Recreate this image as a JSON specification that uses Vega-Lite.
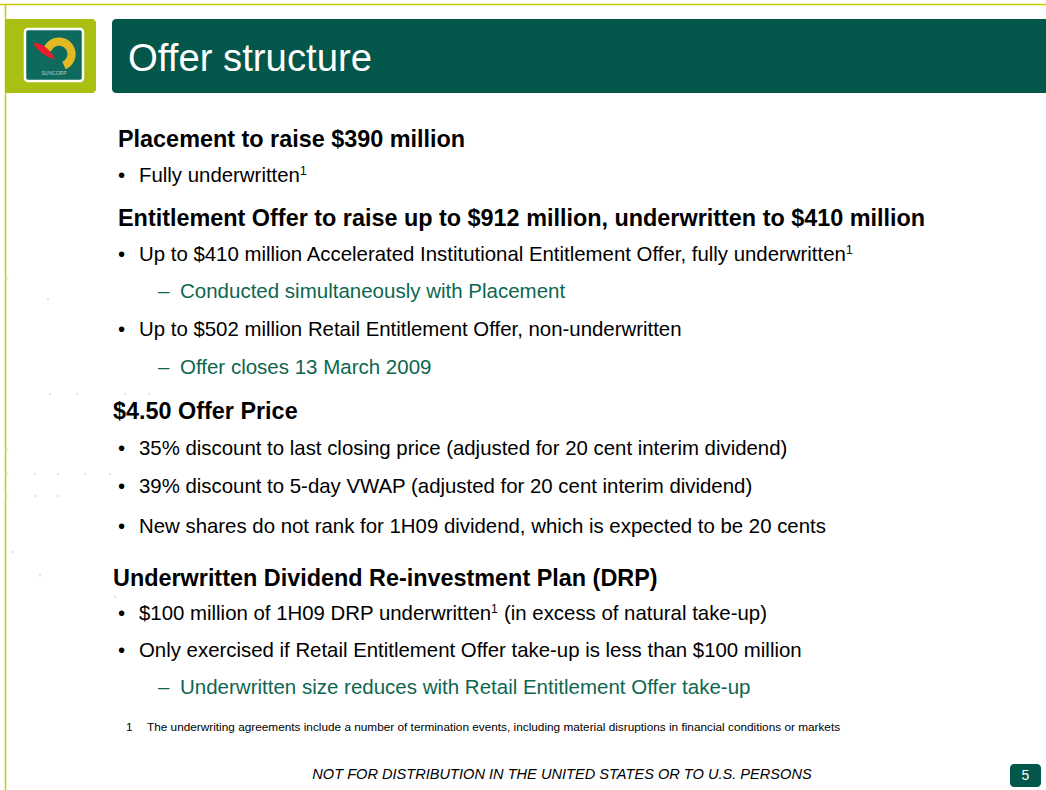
{
  "$schema": "https://vega.github.io/schema/vega-lite/v6.json",
  "width": 1046,
  "height": 790,
  "padding": 0,
  "autosize": {"type": "none"},
  "background": "white",
  "config": {"view": {"stroke": null}},
  "datasets": {
    "rects": [
      {"name": "olive", "x": 5, "x2": 96, "y": 19, "y2": 93},
      {"name": "header", "x": 112, "x2": 1060, "y": 19, "y2": 93},
      {"name": "logo", "x": 25, "x2": 83, "y": 29, "y2": 81},
      {"name": "page", "x": 1010, "x2": 1041, "y": 764, "y2": 787}
    ],
    "rules": [
      {"x": 0, "x2": 1046, "y": 4.5, "y2": 4.5},
      {"x": 5.5, "x2": 5.5, "y": 4, "y2": 790}
    ],
    "dots": [
      {"x": 7, "y": 278}, {"x": 48, "y": 299}, {"x": 50, "y": 394}, {"x": 77, "y": 394},
      {"x": 125, "y": 394}, {"x": 149, "y": 394}, {"x": 7, "y": 450}, {"x": 7, "y": 474},
      {"x": 35, "y": 474}, {"x": 58, "y": 474}, {"x": 85, "y": 474}, {"x": 110, "y": 474},
      {"x": 7, "y": 496}, {"x": 35, "y": 496}, {"x": 58, "y": 496}, {"x": 13, "y": 552},
      {"x": 40, "y": 575}, {"x": 115, "y": 597}
    ],
    "logo": [
      {"part": "arc", "x": 59, "y": 54},
      {"part": "leaf", "x": 44, "y": 51}
    ],
    "texts": [
      {"kind": "title", "x": 128, "y": 71, "text": "Offer structure"},
      {"kind": "brand", "x": 54, "y": 75, "text": "SUNCORP"},
      {"kind": "head", "x": 118, "y": 147, "text": "Placement to raise $390 million"},
      {"kind": "body", "x": 118, "y": 182, "text": "•"},
      {"kind": "body", "x": 139, "y": 182, "text": "Fully underwritten"},
      {"kind": "sup", "x": 300, "y": 175, "text": "1"},
      {"kind": "head", "x": 118, "y": 226, "text": "Entitlement Offer to raise up to $912 million, underwritten to $410 million"},
      {"kind": "body", "x": 118, "y": 261, "text": "•"},
      {"kind": "body", "x": 139, "y": 261, "text": "Up to $410 million Accelerated Institutional Entitlement Offer, fully underwritten"},
      {"kind": "sup", "x": 846, "y": 254, "text": "1"},
      {"kind": "sub", "x": 158, "y": 298, "text": "–"},
      {"kind": "sub", "x": 180, "y": 298, "text": "Conducted simultaneously with Placement"},
      {"kind": "body", "x": 118, "y": 336, "text": "•"},
      {"kind": "body", "x": 139, "y": 336, "text": "Up to $502 million Retail Entitlement Offer, non-underwritten"},
      {"kind": "sub", "x": 158, "y": 374, "text": "–"},
      {"kind": "sub", "x": 180, "y": 374, "text": "Offer closes 13 March 2009"},
      {"kind": "head", "x": 113, "y": 419, "text": "$4.50 Offer Price"},
      {"kind": "body", "x": 118, "y": 455, "text": "•"},
      {"kind": "body", "x": 139, "y": 455, "text": "35% discount to last closing price (adjusted for 20 cent interim dividend)"},
      {"kind": "body", "x": 118, "y": 493, "text": "•"},
      {"kind": "body", "x": 139, "y": 493, "text": "39% discount to 5-day VWAP (adjusted for 20 cent interim dividend)"},
      {"kind": "body", "x": 118, "y": 533, "text": "•"},
      {"kind": "body", "x": 139, "y": 533, "text": "New shares do not rank for 1H09 dividend, which is expected to be 20 cents"},
      {"kind": "head", "x": 113, "y": 586, "text": "Underwritten Dividend Re-investment Plan (DRP)"},
      {"kind": "body", "x": 118, "y": 620, "text": "•"},
      {"kind": "body", "x": 139, "y": 620, "text": "$100 million of 1H09 DRP underwritten"},
      {"kind": "sup", "x": 491, "y": 613, "text": "1"},
      {"kind": "body", "x": 504, "y": 620, "text": "(in excess of natural take-up)"},
      {"kind": "body", "x": 118, "y": 657, "text": "•"},
      {"kind": "body", "x": 139, "y": 657, "text": "Only exercised if Retail Entitlement Offer take-up is less than $100 million"},
      {"kind": "sub", "x": 158, "y": 694, "text": "–"},
      {"kind": "sub", "x": 180, "y": 694, "text": "Underwritten size reduces with Retail Entitlement Offer take-up"},
      {"kind": "foot", "x": 126, "y": 731, "text": "1"},
      {"kind": "foot", "x": 147, "y": 731, "text": "The underwriting agreements include a number of termination events, including material disruptions in financial conditions or markets"},
      {"kind": "footer", "x": 562, "y": 779, "text": "NOT FOR DISTRIBUTION IN THE UNITED STATES OR TO U.S. PERSONS"},
      {"kind": "page", "x": 1025.5, "y": 780, "text": "5"}
    ]
  },
  "encoding": {
    "x": {"field": "x", "type": "quantitative", "scale": {"domain": [0, 1046], "nice": false, "zero": false}, "axis": null},
    "y": {"field": "y", "type": "quantitative", "scale": {"domain": [0, 790], "nice": false, "zero": false, "reverse": true}, "axis": null}
  },
  "layer": [
    {
      "data": {"name": "rules"},
      "mark": {"type": "rule", "color": "#C9CC00", "strokeWidth": 1.5},
      "encoding": {"x2": {"field": "x2"}, "y2": {"field": "y2"}}
    },
    {
      "data": {"name": "dots"},
      "mark": {"type": "square", "color": "#E6E6E6", "size": 5, "opacity": 1},
      "encoding": {}
    },
    {
      "data": {"name": "rects"},
      "transform": [{"filter": "datum.name === 'olive'"}],
      "mark": {"type": "rect", "color": "#A9BF12", "cornerRadiusTopRight": 4, "cornerRadiusBottomRight": 4},
      "encoding": {"x2": {"field": "x2"}, "y2": {"field": "y2"}}
    },
    {
      "data": {"name": "rects"},
      "transform": [{"filter": "datum.name === 'header' || datum.name === 'page'"}],
      "mark": {"type": "rect", "color": "#03574A", "cornerRadius": 4},
      "encoding": {"x2": {"field": "x2"}, "y2": {"field": "y2"}}
    },
    {
      "data": {"name": "rects"},
      "transform": [{"filter": "datum.name === 'logo'"}],
      "mark": {"type": "rect", "fill": "#0E6A5D", "stroke": "white", "strokeWidth": 2.5, "cornerRadius": 3},
      "encoding": {"x2": {"field": "x2"}, "y2": {"field": "y2"}}
    },
    {
      "data": {"name": "logo"},
      "transform": [{"filter": "datum.part === 'arc'"}],
      "mark": {"type": "point", "filled": true, "color": "#E2B824", "opacity": 1, "size": 1100,
        "shape": "M -0.95 -0.3 A 1 1 0 1 1 0.4 0.92 L 0.2 0.46 A 0.5 0.5 0 1 0 -0.47 -0.15 Z"},
      "encoding": {}
    },
    {
      "data": {"name": "logo"},
      "transform": [{"filter": "datum.part === 'leaf'"}],
      "mark": {"type": "point", "filled": true, "color": "#E3202C", "opacity": 1, "size": 500,
        "shape": "M -1 -0.7 Q 0.1 -0.8 1 0.7 Q -0.1 0.6 -1 -0.7 Z"},
      "encoding": {}
    },
    {
      "data": {"name": "texts"},
      "transform": [{"filter": "datum.kind === 'title'"}],
      "mark": {"type": "text", "align": "left", "baseline": "alphabetic", "font": "Liberation Sans", "fontSize": 38.3, "color": "white"},
      "encoding": {"text": {"field": "text"}}
    },
    {
      "data": {"name": "texts"},
      "transform": [{"filter": "datum.kind === 'brand'"}],
      "mark": {"type": "text", "align": "center", "baseline": "alphabetic", "font": "Liberation Sans", "fontSize": 5, "color": "#B8D0C8"},
      "encoding": {"text": {"field": "text"}}
    },
    {
      "data": {"name": "texts"},
      "transform": [{"filter": "datum.kind === 'head'"}],
      "mark": {"type": "text", "align": "left", "baseline": "alphabetic", "font": "Liberation Sans", "fontSize": 23.4, "fontWeight": "bold", "color": "#000000"},
      "encoding": {"text": {"field": "text"}}
    },
    {
      "data": {"name": "texts"},
      "transform": [{"filter": "datum.kind === 'body'"}],
      "mark": {"type": "text", "align": "left", "baseline": "alphabetic", "font": "Liberation Sans", "fontSize": 20.4, "color": "#000000"},
      "encoding": {"text": {"field": "text"}}
    },
    {
      "data": {"name": "texts"},
      "transform": [{"filter": "datum.kind === 'sub'"}],
      "mark": {"type": "text", "align": "left", "baseline": "alphabetic", "font": "Liberation Sans", "fontSize": 20.5, "color": "#0D6650"},
      "encoding": {"text": {"field": "text"}}
    },
    {
      "data": {"name": "texts"},
      "transform": [{"filter": "datum.kind === 'sup'"}],
      "mark": {"type": "text", "align": "left", "baseline": "alphabetic", "font": "Liberation Sans", "fontSize": 12, "color": "#000000"},
      "encoding": {"text": {"field": "text"}}
    },
    {
      "data": {"name": "texts"},
      "transform": [{"filter": "datum.kind === 'foot'"}],
      "mark": {"type": "text", "align": "left", "baseline": "alphabetic", "font": "Liberation Sans", "fontSize": 11.8, "color": "#000000"},
      "encoding": {"text": {"field": "text"}}
    },
    {
      "data": {"name": "texts"},
      "transform": [{"filter": "datum.kind === 'footer'"}],
      "mark": {"type": "text", "align": "center", "baseline": "alphabetic", "font": "Liberation Sans", "fontSize": 14.6, "fontStyle": "italic", "color": "#000000"},
      "encoding": {"text": {"field": "text"}}
    },
    {
      "data": {"name": "texts"},
      "transform": [{"filter": "datum.kind === 'page'"}],
      "mark": {"type": "text", "align": "center", "baseline": "alphabetic", "font": "Liberation Sans", "fontSize": 14, "color": "white"},
      "encoding": {"text": {"field": "text"}}
    }
  ]
}
